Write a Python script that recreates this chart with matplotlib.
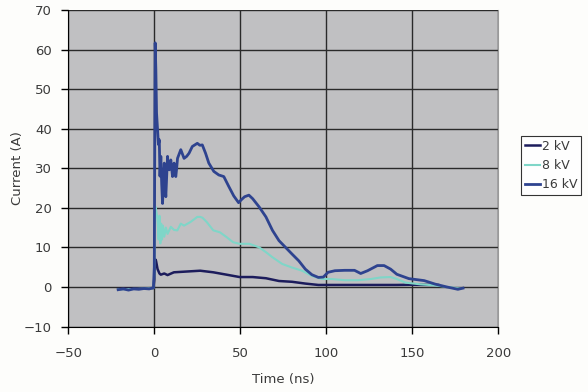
import matplotlib
matplotlib.use("Agg")
import matplotlib.pyplot as plt

plt.rcParams['font.family'] = ['DejaVu Sans']

series_names = ["2 kV", "8 kV", "16 kV"]
series_colors = ["#1c1c5c", "#7fd6c8", "#2e438f"]

t_2kv = [-21, -10, -0.5, 0, 0.5, 1, 1.9, 3, 3.8, 5.8, 7.7, 11.4, 19, 26.7, 34.3, 42,
         49.6, 57.2, 64.9, 72.5, 80.1, 87.8, 95.4, 103, 120, 141, 150, 165]
i_2kv = [-0.5, -0.4, -0.3, 2, 7, 6.6, 4.5, 3.4, 3.1, 3.4, 3.0, 3.7, 3.9, 4.1, 3.7, 3.1,
         2.5, 2.5, 2.2, 1.5, 1.3, 0.85, 0.5, 0.5, 0.5, 0.5, 0.55, 0.5]

t_8kv = [-21, -10, -0.5, 0, 0.3, 0.6, 1.2, 1.9, 2.5, 3, 3.5, 4, 4.5, 5, 5.8, 6.7, 7.7,
         9.6, 11.5, 13.4, 15.4, 17.3, 21, 25, 26.7, 28, 30.5, 34.3, 38.2, 42, 45.8,
         49.6, 55.3, 61, 64.9, 68.7, 74.4, 80.1, 85.9, 91.6, 97.3, 103, 110.7, 118.3,
         125.9, 131.6, 137.4, 141, 146, 154.7, 163, 170, 178]
i_8kv = [-0.6, -0.5, -0.3, 3, 14, 20.3, 19, 17, 12, 18, 11, 16, 12, 15.5, 12.7, 15, 13.4,
         15.2, 14.4, 14.3, 16, 15.5, 16.4, 17.7, 17.7, 17.5, 16.4, 14.3, 13.8, 12.6, 11.3,
         10.9, 10.9, 10, 8.8, 7.5, 5.8, 4.9, 4.1, 2.8, 2.0, 2.0, 1.7, 1.7,
         2.0, 2.4, 2.5, 2.0, 1.1, 0.65, 0.4, 0, -0.4]

t_16kv = [-21, -18, -15, -12, -9, -6, -3, -0.5, 0, 0.3, 0.5, 0.9, 1.3, 1.9, 2.4, 2.9,
          3.3, 3.8, 4.3, 4.8, 5.3, 5.8, 6.2, 6.7, 7.2, 7.7, 8.2, 8.7, 9.1, 9.6, 10.1,
          10.6, 11.1, 11.5, 12, 12.5, 13, 13.5, 15.4, 17.3, 18.8, 20.2, 22.1, 25, 26.5,
          27.9, 29.8, 31.7, 34.6, 37.5, 40.4, 43.3, 46.2, 49, 50.5, 52.5, 55, 57.2, 61,
          64.9, 68.7, 72.5, 76.3, 80.1, 84, 87.8, 91.6, 95.4, 98.3, 101, 105, 110.7,
          116.4, 120, 124, 129.7, 133.6, 137.4, 141, 148, 156.9, 163.4, 170, 176.5, 179.5]
i_16kv = [-0.7, -0.5, -0.8, -0.5, -0.6, -0.4, -0.5, -0.2, 5, 40, 61.7, 55, 44, 39.7, 36,
          37.2, 28, 33, 26, 21.1, 27, 31.3, 26, 22.8, 28, 33, 30, 29.6, 31, 32.1, 30,
          27.9, 30, 31.3, 29, 27.9, 30, 32.5, 34.7, 32.5, 33, 33.8, 35.5, 36.3, 35.8,
          35.9, 33.8, 31.3, 29.2, 28.3, 27.9, 25.4, 23, 21.3, 22, 22.8, 23.2, 22.3, 20.2,
          17.7, 14.3, 11.7, 10, 8.3, 6.6, 4.5, 3.1, 2.4, 2.5, 3.7, 4.1, 4.2,
          4.2, 3.4, 4.1, 5.4, 5.4, 4.5, 3.2, 2.1, 1.6, 0.7, 0, -0.6, -0.3]

x_ticks = [-50, 0, 50, 100, 150, 200]
y_ticks = [-10, 0, 10, 20, 30, 40, 50, 60, 70]

text_color = "#3a3a3a"

fig = plt.figure(figsize=(5.88, 3.92), dpi=100, facecolor="#fdfdfb")
ax = fig.add_axes([68.3 / 588, 1 - 326.5 / 392, (498.3 - 68.3) / 588, (326.5 - 10) / 392])
ax.set_facecolor("#c0c0c2")

ax.plot(t_2kv, i_2kv, color=series_colors[0], lw=1.8, label=series_names[0], zorder=3)
ax.plot(t_8kv, i_8kv, color=series_colors[1], lw=1.5, label=series_names[1], zorder=3)
ax.plot(t_16kv, i_16kv, color=series_colors[2], lw=2.0, label=series_names[2], zorder=4)

ax.set_xlim(-50, 200)
ax.set_ylim(-10, 70)
ax.set_xticks(x_ticks)
ax.set_yticks(y_ticks)
ax.grid(True, color="#2a2a2a", lw=1.0, zorder=1)
ax.set_axisbelow(True)

ax.spines["top"].set_visible(False)
ax.spines["right"].set_color("#9a9a9a")
ax.spines["left"].set_color("black")
ax.spines["bottom"].set_color("black")
ax.tick_params(axis="both", direction="out", length=5, width=1, labelsize=9.5,
               colors="black", labelcolor=text_color)
ax.tick_params(axis="x", pad=10)
ax.tick_params(axis="y", pad=7)

ax.set_xlabel("Time (ns)", fontsize=9.5, color=text_color, labelpad=9)
ax.set_ylabel("Current (A)", fontsize=9.5, color=text_color, labelpad=0)

leg = fig.legend(loc="upper left", bbox_to_anchor=(521 / 588, 1 - 136 / 392),
                 fontsize=9, frameon=True, fancybox=False, handlelength=1.2,
                 handletextpad=0.15, borderpad=0.3, labelspacing=0.5,
                 borderaxespad=0)
leg.get_frame().set_edgecolor("black")
leg.get_frame().set_linewidth(0.8)
leg.get_frame().set_facecolor("white")
for txt in leg.get_texts():
    txt.set_color(text_color)

fig.savefig("out.png", dpi=100, facecolor=fig.get_facecolor())
